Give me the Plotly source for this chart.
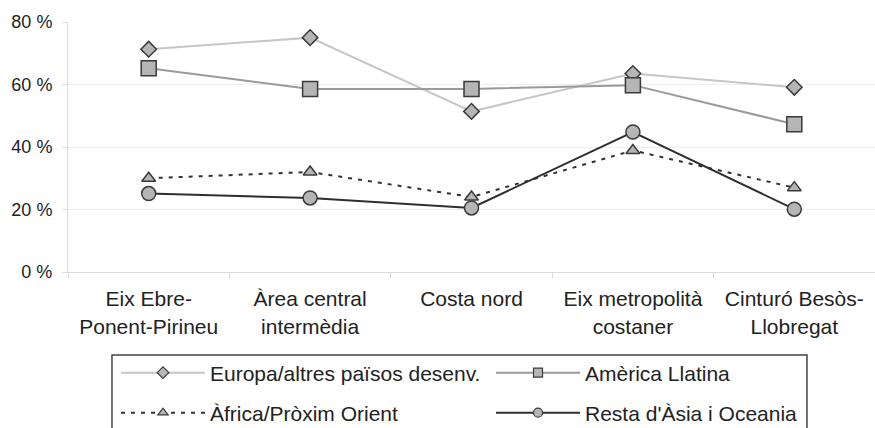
import plotly.graph_objects as go

categories = ["Eix Ebre-<br>Ponent-Pirineu", "Àrea central<br>intermèdia", "Costa nord",
              "Eix metropolità<br>costaner", "Cinturó Besòs-<br>Llobregat"]
europa = [71.3, 75.0, 51.4, 63.5, 59.1]
america = [65.2, 58.6, 58.6, 59.8, 47.3]
africa = [30.0, 32.0, 24.0, 38.9, 27.0]
resta = [25.1, 23.7, 20.5, 44.8, 20.1]
yticks = [0, 20, 40, 60, 80]

fill = "#b5b5b5"
edge = "#3a3a3a"

series = [
    ("Europa/altres països desenv.", europa, "#c6c6c6", "solid", "diamond", 12, "legend"),
    ("Amèrica Llatina", america, "#9a9a9a", "solid", "square", 15, "legend"),
    ("Àfrica/Pròxim Orient", africa, "#333333", "4px,6px", "triangle-up", 12, "legend2"),
    ("Resta d'Àsia i Oceania", resta, "#2e2e2e", "solid", "circle", 14, "legend2"),
]

fig = go.Figure()
for name, vals, col, dash, sym, sz, lg in series:
    fig.add_trace(go.Scatter(
        x=categories, y=vals, mode="lines+markers", name=name, showlegend=False,
        line=dict(color=col, width=2, dash=dash),
        marker=dict(symbol=sym, size=sz, color=fill, line=dict(color=edge, width=1.5)),
    ))
for name, vals, col, dash, sym, sz, lg in series:
    fig.add_trace(go.Scatter(
        x=[None], y=[None], mode="lines+markers", name=name, showlegend=True, legend=lg,
        line=dict(color=col, width=2, dash=dash),
        marker=dict(symbol=sym, size=9, color=fill, line=dict(color=edge, width=1.2)),
    ))

leg_common = dict(
    orientation="h", x=0.0595, xanchor="left", yanchor="middle",
    entrywidth=276, entrywidthmode="pixels", itemwidth=84,
    borderwidth=0, bgcolor="rgba(0,0,0,0)",
    font=dict(size=21, color="#222222"),
)

fig.update_layout(
    width=875, height=428,
    margin=dict(l=68, r=0, t=22, b=156, autoexpand=False),
    paper_bgcolor="white", plot_bgcolor="white",
    font=dict(family="Liberation Sans, Arial, sans-serif", size=21, color="#222222"),
    showlegend=True,
    legend=dict(y=-0.404, **leg_common),
    legend2=dict(y=-0.564, **leg_common),
    xaxis=dict(
        type="category", range=[-0.5, 4.5], showgrid=False, zeroline=False,
        showline=True, linecolor="#dcdcdc", linewidth=1,
        ticks="outside", tickson="boundaries", ticklen=5, tickcolor="#dcdcdc",
        ticklabelstandoff=8, tickfont=dict(size=21, color="#222222"),
    ),
    yaxis=dict(
        range=[0, 80], tickvals=yticks, ticktext=[f"{v} %" for v in yticks],
        showgrid=True, gridcolor="#eeeeee", zeroline=False,
        showline=True, linecolor="#dcdcdc", linewidth=1,
        ticks="outside", ticklen=5, tickcolor="#dcdcdc",
        ticklabelstandoff=6, tickfont=dict(size=18, color="#222222"),
    ),
    shapes=[dict(
        type="rect", xref="paper", yref="paper",
        x0=0.0545, x1=0.9157, y0=-0.75, y1=-0.332,
        line=dict(color="#444444", width=1.5), fillcolor="rgba(0,0,0,0)", layer="below",
    )],
)

fig.write_html("out.html")
